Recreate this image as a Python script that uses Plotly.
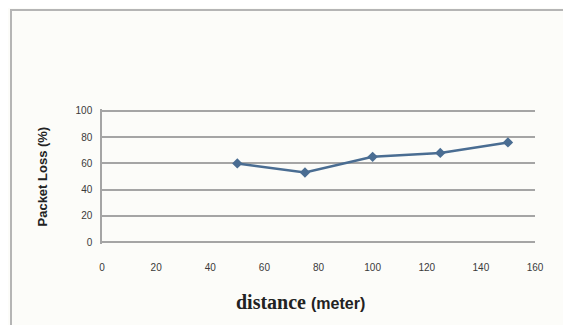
import plotly.graph_objects as go

distance = [50, 75, 100, 125, 150]
packet_loss = [60, 53, 65, 68, 76]
x_ticks = [0, 20, 40, 60, 80, 100, 120, 140, 160]
y_ticks = [0, 20, 40, 60, 80, 100]

fig = go.Figure()
fig.add_trace(go.Scatter(
    x=distance, y=packet_loss, mode="lines+markers",
    line=dict(color="#4a6d92", width=2.5),
    marker=dict(symbol="diamond", size=8, color="#4a6d92"),
    showlegend=False,
))

tickfont = dict(family="Liberation Sans, Arial", size=10, color="#3a3a3a")
fig.update_layout(
    width=563, height=317,
    margin=dict(l=94, r=36, t=101, b=81),
    paper_bgcolor="#fcfcf9", plot_bgcolor="#fcfcf9",
    xaxis=dict(range=[0, 160], tickvals=x_ticks, showgrid=False, zeroline=False,
               showline=False, tickfont=tickfont, ticks="", ticklabelstandoff=16),
    yaxis=dict(range=[-1.5, 101.5], tickvals=y_ticks, showgrid=True, gridcolor="#a5a5a5", gridwidth=1.5,
               zeroline=False, showline=True, linecolor="#a5a5a5", linewidth=1.5,
               tickfont=tickfont, ticks="", ticklabelstandoff=6),
)
fig.add_annotation(
    xref="paper", yref="paper", x=(34 - 94) / 433, y=0.5, xanchor="center", yanchor="middle",
    text="<b>Packet Loss (%)</b>", textangle=-90, showarrow=False,
    font=dict(family="Liberation Sans, Arial", size=13, color="#222222"),
)
fig.add_annotation(
    xref="paper", yref="paper", x=(292 - 94) / 433, y=-0.43, xanchor="center", yanchor="middle",
    text="<b>distance</b> <span style='font-family:Liberation Sans;font-size:16px'><b>(meter)</b></span>",
    showarrow=False,
    font=dict(family="Liberation Serif, serif", size=20, color="#222222"),
)
fig.add_shape(type="rect", xref="paper", yref="paper",
              x0=(3 - 94) / 433, x1=(600 - 94) / 433,
              y0=(236 - 340) / 135, y1=(236 - 2) / 135,
              line=dict(color="#b5b5b5", width=2), fillcolor="rgba(0,0,0,0)", layer="below")
fig.write_html("out.html")
